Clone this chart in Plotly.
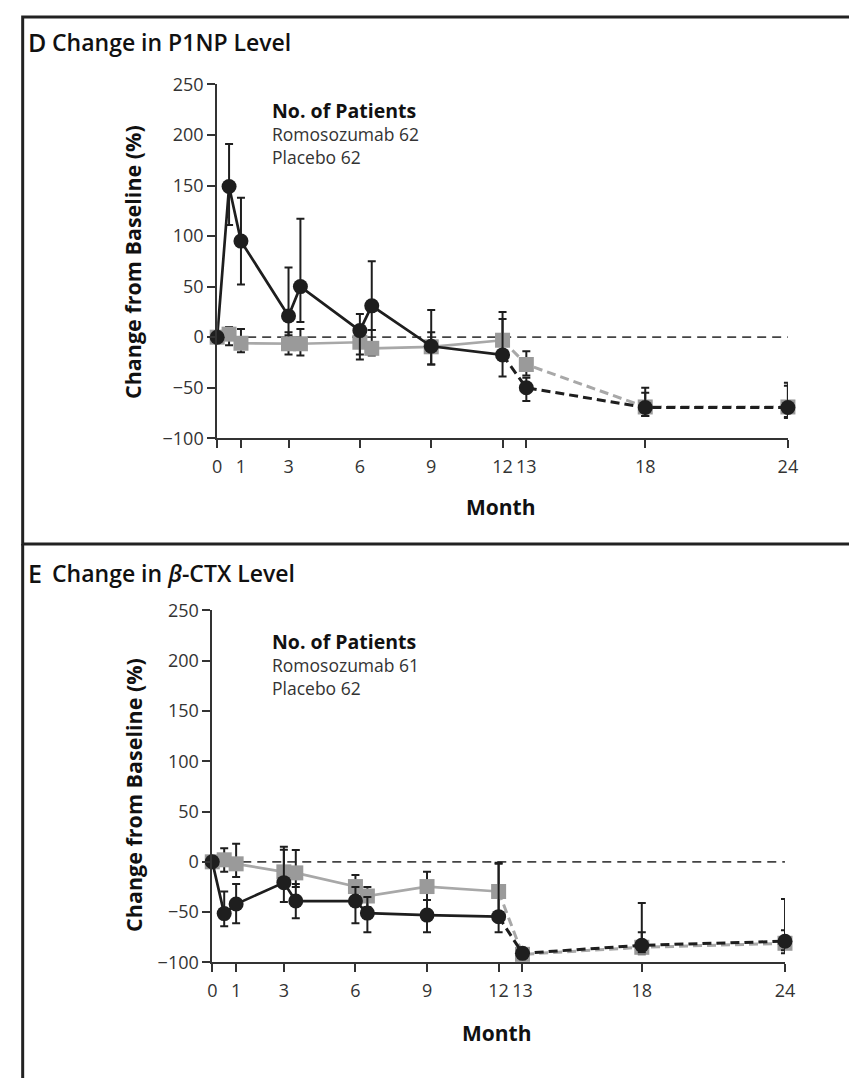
import plotly.graph_objects as go

# ---------------- data ----------------
months = [0, 0.5, 1, 3, 3.5, 6, 6.5, 9, 12, 13, 18, 24]
split_month = 12  # solid up to month 12, dashed afterwards
x_tickvals = [0, 1, 3, 6, 9, 12, 13, 18, 24]
y_tickvals = [-100, -50, 0, 50, 100, 150, 200, 250]
ref_value = 0

# Panel D: P1NP
romo_p1np = [0, 149, 95, 21, 50, 6.5, 31, -9, -17.5, -50, -69.5, -69.5]
romo_p1np_hi = [0, 191, 138, 69, 117, 23, 75, 27, 25, -40, -50, -45]
romo_p1np_lo = [0, 111, 52, 2, 15, -17, 7, -27, -39, -63, -78, -79]
plac_p1np = [0, 3, -6, -6.5, -6.5, -5, -11, -9.5, -3, -27, -69, -69]
plac_p1np_hi = [0, 10, 8, 5, 8, 8, 7, 5, 18, -14, -55, -48]
plac_p1np_lo = [0, -8, -15, -17, -18, -22, -18, -27, -22, -38, -78, -80]

# Panel E: beta-CTX
romo_ctx = [0, -51.5, -42, -20.7, -39, -39, -51, -53, -54.5, -91, -83, -79]
romo_ctx_hi = [0, -29.5, -22, 12, -22, -25, -35, -38, -2, -88, -41, -37]
romo_ctx_lo = [0, -64, -61, -40, -56, -61, -70, -70, -70, -94, -90, -88]
plac_ctx = [0, 2, -2, -10, -11, -24.6, -34, -24.6, -29.5, -92, -85, -81]
plac_ctx_hi = [0, 13.6, 18, 15, 11.7, -13, -25, -10, -1, -89, -70, -68]
plac_ctx_lo = [0, -10, -15, -25, -25, -37, -45, -38, -55, -95, -92, -91]

panel_titles = ["Change in P1NP Level", "Change in <i>β</i>-CTX Level"]
panel_letters = ["D", "E"]
n_romo = [62, 61]
n_plac = [62, 62]

# ---------------- styling ----------------
W, H = 849, 1078
FONT = "Open Sans"
BLACK = "#1e1e1e"
GRAY_M = "#9a9a9a"
GRAY_L = "#a8a8a8"
DARK = "#333333"


def px(xp):
    return xp / W


def py(yp):
    return 1 - yp / H


fig = go.Figure()

si = months.index(split_month)


def add_series(vals, hi, lo, xa, ya, color_line, color_marker, symbol, size):
    solid_x, solid_y = months[: si + 1], vals[: si + 1]
    dash_x, dash_y = months[si:], vals[si:]
    fig.add_trace(go.Scatter(x=solid_x, y=solid_y, mode="lines",
                             line=dict(color=color_line, width=2.7),
                             xaxis=xa, yaxis=ya, showlegend=False, hoverinfo="skip",
                             cliponaxis=False))
    fig.add_trace(go.Scatter(x=dash_x, y=dash_y, mode="lines",
                             line=dict(color=color_line, width=3, dash="9px,5px"),
                             xaxis=xa, yaxis=ya, showlegend=False, hoverinfo="skip",
                             cliponaxis=False))
    fig.add_trace(go.Scatter(
        x=months, y=vals, mode="markers",
        marker=dict(color=color_marker, symbol=symbol, size=size, line=dict(width=0)),
        error_y=dict(type="data", symmetric=False,
                     array=[h - v for h, v in zip(hi, vals)],
                     arrayminus=[v - l for v, l in zip(vals, lo)],
                     color=BLACK, thickness=2, width=4),
        xaxis=xa, yaxis=ya, showlegend=False, cliponaxis=False))


# Panel D
add_series(plac_p1np, plac_p1np_hi, plac_p1np_lo, "x", "y", GRAY_L, GRAY_M, "square", 15)
add_series(romo_p1np, romo_p1np_hi, romo_p1np_lo, "x", "y", BLACK, BLACK, "circle", 15)
# Panel E
add_series(plac_ctx, plac_ctx_hi, plac_ctx_lo, "x2", "y2", GRAY_L, GRAY_M, "square", 15)
add_series(romo_ctx, romo_ctx_hi, romo_ctx_lo, "x2", "y2", BLACK, BLACK, "circle", 15)

axis_common = dict(showgrid=False, zeroline=False, showline=True, linecolor=DARK,
                   linewidth=1.8, ticks="outside", ticklen=8, tickwidth=1.8,
                   tickcolor=DARK, tickfont=dict(family=FONT, size=18, color=DARK))

# pixel geometry of plots
top = dict(x0=216, x1=797, yt=73, yb=435)
bot = dict(x0=211, x1=794, yt=611, yb=971)

fig.update_layout(
    width=W, height=H, margin=dict(l=0, r=0, t=0, b=0),
    paper_bgcolor="white", plot_bgcolor="white",
    xaxis=dict(domain=[px(top["x0"]), px(top["x1"])], range=[0, 24], tickvals=x_tickvals,
               anchor="y", ticklabelstandoff=3, **axis_common),
    yaxis=dict(domain=[py(top["yb"]), py(top["yt"])], range=[-100, 250], tickvals=y_tickvals,
               anchor="x", **axis_common),
    xaxis2=dict(domain=[px(bot["x0"]), px(bot["x1"])], range=[0, 24], tickvals=x_tickvals,
                anchor="y2", ticklabelstandoff=3, **axis_common),
    yaxis2=dict(domain=[py(bot["yb"]), py(bot["yt"])], range=[-100, 250], tickvals=y_tickvals,
                anchor="x2", **axis_common),
)

# reference dashed zero lines
for xr, yr in (("x", "y"), ("x2", "y2")):
    fig.add_shape(type="line", xref=xr, yref=yr, x0=0, x1=24, y0=ref_value, y1=ref_value,
                  line=dict(color="#444444", width=1.8, dash="9px,6px"), layer="below")

# panel frames
fig.add_shape(type="rect", xref="paper", yref="paper", x0=px(18), x1=1.05,
              y0=py(543), y1=py(4), line=dict(color="#222222", width=3))
fig.add_shape(type="line", xref="paper", yref="paper", x0=px(18), x1=px(18),
              y0=py(543), y1=-0.05, line=dict(color="#222222", width=3))

anns = []
panel_geo = [
    dict(title_y=30, np_y=100, ytitle_y=255, month_y=505, month_x=505),
    dict(title_y=573, np_y=643, ytitle_y=800, month_y=1043, month_x=501),
]
for i, pg in enumerate(panel_geo):
    anns.append(dict(x=px(21), y=py(pg["title_y"]), text=panel_letters[i], xanchor="left",
                     yanchor="middle", font=dict(family=FONT, size=25, color="#111", weight=600)))
    anns.append(dict(x=px(46), y=py(pg["title_y"]), text=panel_titles[i], xanchor="left",
                     yanchor="middle", font=dict(family=FONT, size=23, color="#111", weight=600)))
    anns.append(dict(x=px(270), y=py(pg["np_y"]), text="No. of Patients", xanchor="left",
                     yanchor="middle", font=dict(family=FONT, size=19.5, color="#111", weight=700)))
    anns.append(dict(x=px(270), y=py(pg["np_y"] + 23.5), text=f"Romosozumab {n_romo[i]}",
                     xanchor="left", yanchor="middle",
                     font=dict(family=FONT, size=17.5, color=DARK)))
    anns.append(dict(x=px(270), y=py(pg["np_y"] + 47), text=f"Placebo {n_plac[i]}",
                     xanchor="left", yanchor="middle",
                     font=dict(family=FONT, size=17.5, color=DARK)))
    anns.append(dict(x=px(130), y=py(pg["ytitle_y"]), text="Change from Baseline (%)",
                     textangle=-90, xanchor="center", yanchor="middle",
                     font=dict(family=FONT, size=21.5, color="#111", weight=700)))
    anns.append(dict(x=px(pg["month_x"]), y=py(pg["month_y"]), text="Month",
                     xanchor="center", yanchor="middle",
                     font=dict(family=FONT, size=21, color="#111", weight=700)))

for a in anns:
    a.update(xref="paper", yref="paper", showarrow=False)
fig.update_layout(annotations=anns)

fig.write_html("out.html")
